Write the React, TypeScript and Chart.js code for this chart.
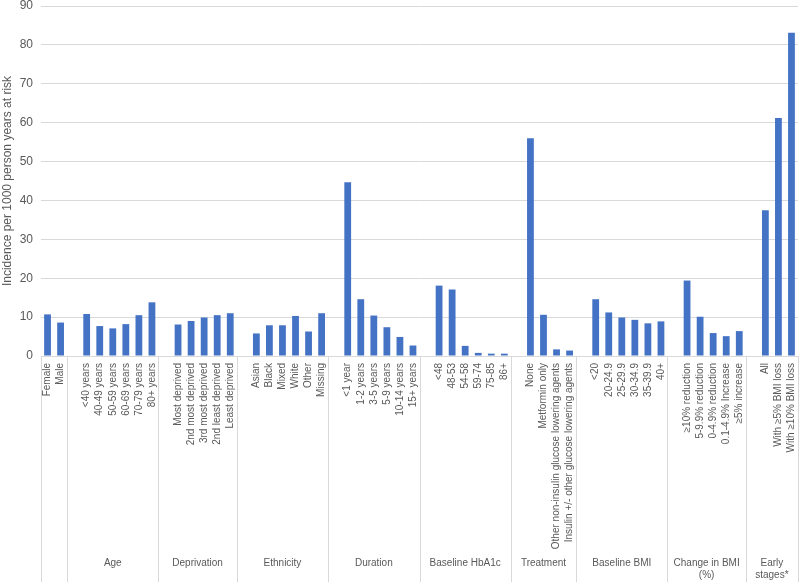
import React, { useEffect, useRef } from 'react';
import { Chart, registerables } from 'chart.js';

Chart.register(...registerables);

// ---- Data ----
const groupNames: (string | string[])[] = [
  '',
  'Age',
  'Deprivation',
  'Ethnicity',
  'Duration',
  'Baseline HbA1c',
  'Treatment',
  'Baseline BMI',
  ['Change in BMI', '(%)'],
  ['Early', 'stages*'],
];

const sexLabels = ['Female', 'Male'];
const sexValues = [10.7, 8.6];

const ageLabels = ['<40 years', '40-49 years', '50-59 years', '60-69 years', '70-79 years', '80+ years'];
const ageValues = [10.8, 7.7, 7.1, 8.2, 10.5, 13.8];

const deprivationLabels = ['Most deprived', '2nd most deprived', '3rd most deprived', '2nd least deprived', 'Least deprived'];
const deprivationValues = [8.1, 9.0, 9.9, 10.5, 11.0];

const ethnicityLabels = ['Asian', 'Black', 'Mixed', 'White', 'Other', 'Missing'];
const ethnicityValues = [5.8, 7.9, 7.9, 10.3, 6.3, 11.0];

const durationLabels = ['<1 year', '1-2 years', '3-5 years', '5-9 years', '10-14 years', '15+ years'];
const durationValues = [44.7, 14.6, 10.4, 7.4, 4.9, 2.7];

const hba1cLabels = ['<48', '48-53', '54-58', '59-74', '75-85', '86+'];
const hba1cValues = [18.1, 17.1, 2.6, 0.8, 0.6, 0.6];

const treatmentLabels = ['None', 'Metformin only', 'Other non-insulin glucose lowering agents', 'Insulin +/- other glucose lowering agents'];
const treatmentValues = [56.0, 10.6, 1.7, 1.4];

const bmiLabels = ['<20', '20-24.9', '25-29.9', '30-34.9', '35-39.9', '40+'];
const bmiValues = [14.6, 11.2, 9.9, 9.3, 8.4, 8.9];

const bmiChangeLabels = ['≥10% reduction', '5-9.9% reduction', '0-4.9% reduction', '0.1-4.9% Increase', '≥5% increase'];
const bmiChangeValues = [19.4, 10.1, 5.9, 5.1, 6.4];

const earlyLabels = ['All', 'With ≥5% BMI loss', 'With ≥10% BMI loss'];
const earlyValues = [37.5, 61.2, 83.1];

const yTicks = [0, 10, 20, 30, 40, 50, 60, 70, 80, 90];
const yTitle = 'Incidence per 1000 person years at risk';

const groupLabels = [sexLabels, ageLabels, deprivationLabels, ethnicityLabels, durationLabels, hba1cLabels, treatmentLabels, bmiLabels, bmiChangeLabels, earlyLabels];
const groupValues = [sexValues, ageValues, deprivationValues, ethnicityValues, durationValues, hba1cValues, treatmentValues, bmiValues, bmiChangeValues, earlyValues];

// Build flat category list: each group after the first starts with an empty slot
const labels: string[] = [];
const values: (number | null)[] = [];
const groupRanges: { start: number; end: number; name: string | string[] }[] = [];
groupLabels.forEach((g, gi) => {
  const start = labels.length;
  if (gi > 0) {
    labels.push('');
    values.push(null);
  }
  g.forEach((l, i) => {
    labels.push(l);
    values.push(groupValues[gi][i]);
  });
  groupRanges.push({ start, end: labels.length - 1, name: groupNames[gi] });
});

const TEXT = '#595959';
const GRID = '#d9d9d9';
const FONT = "'Liberation Sans', Arial, sans-serif";

const groupPlugin = {
  id: 'groupPlugin',
  afterDraw(chart: any) {
    const { ctx, chartArea } = chart;
    const x = chart.scales.x;
    const half = (x.getPixelForValue(1) - x.getPixelForValue(0)) / 2;
    const bottom = chart.height - 3;
    ctx.save();
    ctx.strokeStyle = GRID;
    ctx.lineWidth = 1;
    const bounds: number[] = [];
    groupRanges.forEach((g, i) => {
      if (i === 0) bounds.push(x.getPixelForValue(g.start) - half);
      bounds.push(x.getPixelForValue(g.end) + half);
    });
    bounds.forEach((b) => {
      const px = Math.round(b) + 0.5;
      ctx.beginPath();
      ctx.moveTo(px, chartArea.bottom);
      ctx.lineTo(px, bottom);
      ctx.stroke();
    });
    ctx.fillStyle = TEXT;
    ctx.font = `10px ${FONT}`;
    ctx.textAlign = 'center';
    ctx.textBaseline = 'middle';
    groupRanges.forEach((g, i) => {
      const cx = (bounds[i] + bounds[i + 1]) / 2;
      const lines = Array.isArray(g.name) ? g.name : [g.name];
      lines.forEach((ln, li) => {
        ctx.fillText(ln, cx, 563 + li * 12);
      });
    });
    ctx.restore();
  },
};

export default function App() {
  const ref = useRef<HTMLCanvasElement>(null);
  useEffect(() => {
    document.body.style.margin = '0';
    const chart = new Chart(ref.current!, {
      type: 'bar',
      data: {
        labels,
        datasets: [
          {
            data: values,
            backgroundColor: '#4472C4',
            categoryPercentage: 1,
            barPercentage: 0.52,
          },
        ],
      },
      options: {
        animation: false,
        responsive: false,
        maintainAspectRatio: false,
        layout: { padding: 0 },
        plugins: {
          legend: { display: false },
          tooltip: { enabled: false },
        },
        scales: {
          x: {
            grid: { display: false, drawTicks: false },
            border: { display: true, color: GRID },
            ticks: {
              autoSkip: false,
              minRotation: 90,
              maxRotation: 90,
              padding: 7,
              color: TEXT,
              font: { size: 10, family: FONT },
            },
            afterFit: (scale: any) => {
              scale.height = 229;
              scale.paddingLeft = 0;
              scale.paddingRight = 2;
            },
          },
          y: {
            min: 0,
            max: 90,
            afterBuildTicks: (scale: any) => {
              scale.ticks = yTicks.map((v) => ({ value: v }));
            },
            grid: { color: GRID, drawTicks: false },
            border: { display: false },
            ticks: {
              padding: 8,
              color: TEXT,
              font: { size: 12, family: FONT },
            },
            title: {
              display: true,
              text: yTitle,
              color: TEXT,
              padding: { top: 0, bottom: 0 },
              font: { size: 12, family: FONT },
            },
            afterFit: (scale: any) => {
              scale.width = 41;
              scale.paddingTop = 6;
              scale.paddingBottom = 0;
            },
          },
        },
      },
      plugins: [groupPlugin],
    });
    return () => chart.destroy();
  }, []);
  return (
    <div style={{ width: 800, height: 585 }}>
      <canvas ref={ref} width={800} height={585} style={{ display: 'block' }} />
    </div>
  );
}
